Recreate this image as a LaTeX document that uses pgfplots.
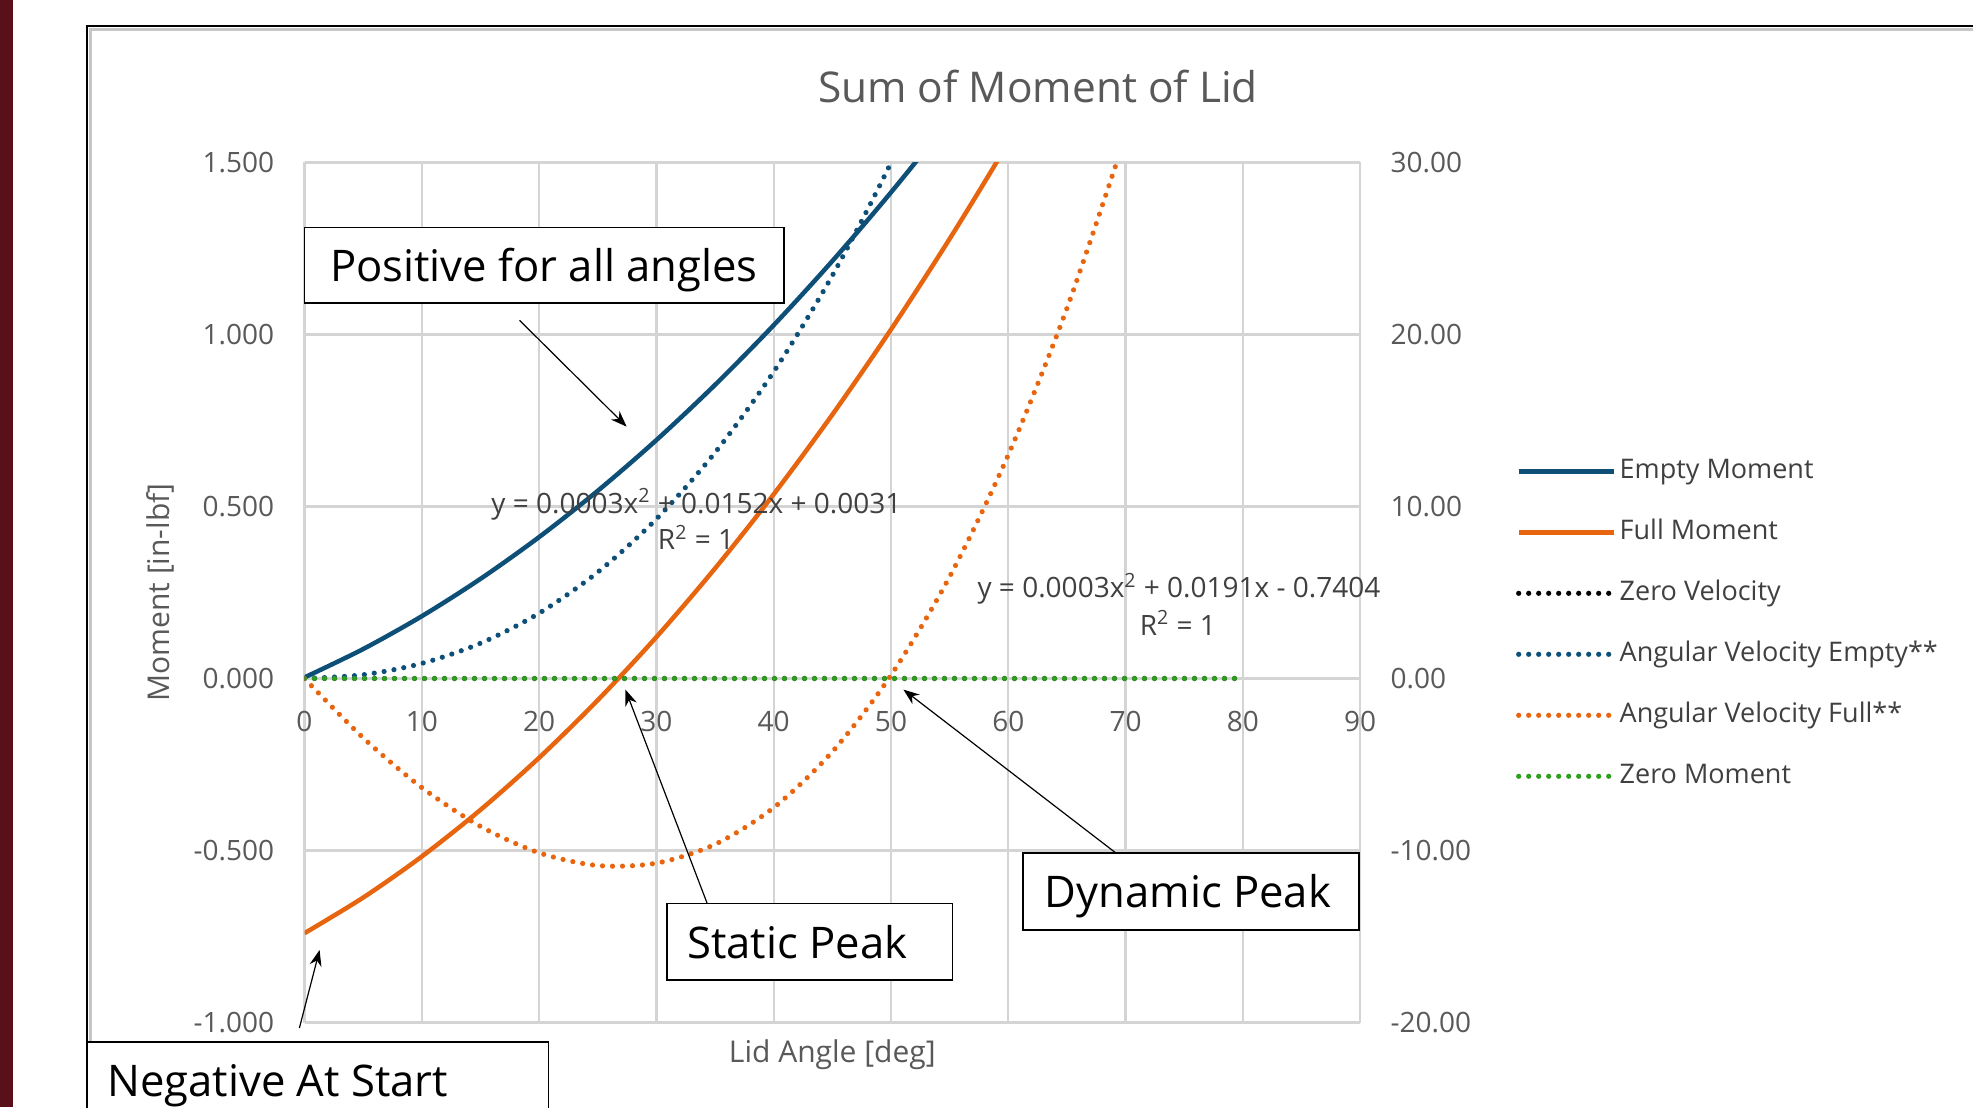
\documentclass[border=0pt]{standalone}
\usepackage{fontspec}
\setmainfont{Open Sans}
\usepackage{pgfplots}
\pgfplotsset{compat=1.18}
\usetikzlibrary{arrows.meta}

\definecolor{emptyblue}{HTML}{0E4F78}
\definecolor{fullorange}{HTML}{E8650F}
\definecolor{zerogreen}{HTML}{2E9E1E}
\definecolor{txtgray}{HTML}{595959}
\definecolor{eqgray}{HTML}{404040}
\definecolor{gridgray}{HTML}{D4D4D4}
\definecolor{sidebar}{HTML}{5A1019}

\pgfplotsset{
  dotline/.style={line width=2.6pt, dash pattern=on 0pt off 5pt, line cap=round},
  solidline/.style={line width=2.25pt},
}

\begin{document}
\begin{tikzpicture}[x=1pt,y=1pt]
\path[use as bounding box] (0,0) rectangle (986.5,553.5);
\fill[sidebar] (0,0) rectangle (6.5,553.5);
\draw[gray!45, line width=1.2pt] (45.3,0) -- (45.3,538.8) -- (986.5,538.8);
\draw[black, line width=0.9pt] (43.5,0) -- (43.5,540.5) -- (986.5,540.5);

% left axis: moments
\begin{axis}[
  at={(152.25pt,42.25pt)}, anchor=south west, scale only axis,
  width=527.85pt, height=430pt,
  xmin=0, xmax=90, ymin=-1, ymax=1.5,
  xtick={0,10,...,90}, ytick={-1,-0.5,0,0.5,1,1.5},
  axis x line=middle, axis y line=left,
  hide obscured x ticks=false, hide obscured y ticks=false,
  axis line style={-, draw=gridgray, line width=1.2pt},
  grid=major, major grid style={draw=gridgray, line width=1.2pt},
  major tick length=0pt,
  /pgf/number format/assume math mode=true,
  ticklabel style={font=\fontsize{14pt}{16pt}\selectfont, text=txtgray},
  yticklabel style={/pgf/number format/fixed, /pgf/number format/fixed zerofill,
    /pgf/number format/precision=3, inner sep=0pt, anchor=east, xshift=-15pt},
  xticklabel style={inner sep=0pt, anchor=north, yshift=-16pt},
  xlabel={Lid Angle [deg]}, ylabel={Moment [in-lbf]},
  label style={font=\fontsize{15pt}{17pt}\selectfont, text=txtgray},
  xlabel style={at={(axis description cs:0.5,-0.0372)}, anchor=center},
  ylabel style={at={(axis description cs:-0.1364,0.5)}, anchor=center},
]
\addplot[emptyblue, solidline, smooth] coordinates {
  (0,0.0031) (5,0.0856) (10,0.1811) (15,0.2896) (20,0.4111) (25,0.5456)
  (30,0.6931) (35,0.8536) (40,1.0271) (45,1.2136) (50,1.4131) (55,1.6256)
  (60,1.8511)};
\addplot[fullorange, solidline, smooth] coordinates {
  (0,-0.7404) (5,-0.6369) (10,-0.5174) (15,-0.3819) (20,-0.2304) (25,-0.0629)
  (30,0.1206) (35,0.3201) (40,0.5356) (45,0.7671) (50,1.0146) (55,1.2781)
  (60,1.5576) (65,1.8531)};
\end{axis}

% right axis: angular velocity
\begin{axis}[
  at={(152.25pt,42.25pt)}, anchor=south west, scale only axis,
  width=527.85pt, height=430pt,
  xmin=0, xmax=90, ymin=-20, ymax=30,
  ytick={-20,-10,...,30},
  axis y line*=right, axis x line=none,
  axis line style={-, draw=gridgray, line width=1.2pt},
  major tick length=0pt,
  /pgf/number format/assume math mode=true,
  ticklabel style={font=\fontsize{14pt}{16pt}\selectfont, text=txtgray},
  yticklabel style={/pgf/number format/fixed, /pgf/number format/fixed zerofill,
    /pgf/number format/precision=2, inner sep=0pt, anchor=west, xshift=15pt},
  legend cell align=left,
  legend style={at={(1.1473,0.4636)}, anchor=west, draw=none, fill=none,
    font=\fontsize{13.5pt}{16pt}\selectfont, text=eqgray,
    row sep=17.5pt, column sep=1.4pt, inner sep=0pt,
    nodes={inner sep=0pt, text height=10pt, text depth=3pt}},
  legend image code/.code={\draw[#1] (0pt,0pt) -- (47.8pt,0pt);},
]
\addlegendimage{emptyblue, solidline}
\addlegendentry{Empty Moment}
\addlegendimage{fullorange, solidline}
\addlegendentry{Full Moment}
\addplot[black, dotline] coordinates {(0,0) (80,0)};
\addlegendentry{Zero Velocity}
\addplot[emptyblue, dotline, smooth] coordinates {
  (0,0) (5,0.2163) (10,0.8777) (15,2.049) (20,3.7956) (25,6.1822)
  (30,9.2739) (35,13.136) (40,17.833) (45,23.430) (50,29.993) (55,37.585)};
\addlegendentry{Angular Velocity Empty**}
\addplot[fullorange, dotline, smooth] coordinates {
  (0,0) (5,-3.4499) (10,-6.3423) (15,-8.5971) (20,-10.1344) (25,-10.874)
  (30,-10.7361) (35,-9.6404) (40,-7.5072) (45,-4.256) (50,0.1925)
  (55,5.9189) (60,13.0032) (65,21.5253) (70,31.5651)};
\addlegendentry{Angular Velocity Full**}
\addplot[zerogreen, dotline] coordinates {(0,0) (80,0)};
\addlegendentry{Zero Moment}
\end{axis}

% title
\node[anchor=base, text=txtgray, font=\fontsize{21.2pt}{24pt}\selectfont]
  at (519,502.4) {Sum of Moment of Lid};

% trendline labels
\node[anchor=base, text=eqgray, font=\fontsize{14pt}{16pt}\selectfont]
  at (348.2,296.9) {y = 0.0003x\textsuperscript{2} + 0.0152x + 0.0031};
\node[anchor=base, text=eqgray, font=\fontsize{14pt}{16pt}\selectfont]
  at (348,278.6) {R\textsuperscript{2} = 1};
\node[anchor=base, text=eqgray, font=\fontsize{14pt}{16pt}\selectfont]
  at (589.5,254.7) {y = 0.0003x\textsuperscript{2} + 0.0191x - 0.7404};
\node[anchor=base, text=eqgray, font=\fontsize{14pt}{16pt}\selectfont]
  at (588.9,235.8) {R\textsuperscript{2} = 1};

% callouts
\tikzset{callout/.style={draw=black, line width=0.8pt, fill=white},
  calltext/.style={anchor=base west, inner sep=0pt, font=\fontsize{21.8pt}{25pt}\selectfont},
  callarrow/.style={line width=0.6pt, -{Stealth[length=8pt,width=6pt]}}}
\draw[callout] (152.25,401.85) rectangle (392,439.65);
\node[calltext] at (164.85,412.95) {Positive for all angles};
\draw[callarrow] (259.8,393.3) -- (313.3,340.2);

\draw[callout] (333.45,63.4) rectangle (476.25,101.75);
\node[calltext] at (343.5,74.45) {Static Peak};
\draw[callarrow] (353.6,101.75) -- (312.7,208.7);

\draw[callout] (511.5,88.55) rectangle (679.5,126.95);
\node[calltext] at (522.2,99.65) {Dynamic Peak};
\draw[callarrow] (558,126.95) -- (451.7,208.7);

\draw[callout] (43.4,-5) rectangle (274.3,32.5);
\node[calltext] at (53.5,5.2) {Negative At Start};
\draw[callarrow] (149.7,39.5) -- (159.8,78.5);
\end{tikzpicture}
\end{document}
